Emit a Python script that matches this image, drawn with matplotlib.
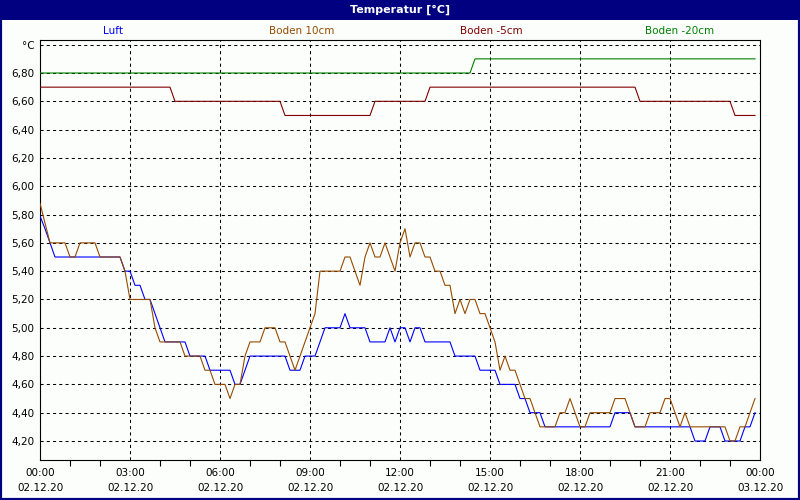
import matplotlib
matplotlib.use("Agg")
import matplotlib.pyplot as plt
import matplotlib.dates as mdates
from matplotlib.patches import Rectangle
import pandas as pd

# ---------------- data ----------------
title = "Temperatur [°C]"
series_names = ["Luft", "Boden 10cm", "Boden -5cm", "Boden -20cm"]
series_colors = ["#0000ff", "#964b00", "#800000", "#008000"]

times = pd.date_range("2020-12-02 00:00", periods=144, freq="10min")

luft = [
    5.79, 5.70, 5.60, 5.5, 5.5, 5.5, 5.5, 5.5, 5.5, 5.5, 5.5, 5.5,
    5.5, 5.5, 5.5, 5.5, 5.5, 5.4, 5.4, 5.3, 5.3, 5.2, 5.2, 5.1,
    5.0, 4.9, 4.9, 4.9, 4.9, 4.9, 4.8, 4.8, 4.8, 4.8, 4.7, 4.7,
    4.7, 4.7, 4.7, 4.6, 4.6, 4.7, 4.8, 4.8, 4.8, 4.8, 4.8, 4.8,
    4.8, 4.8, 4.7, 4.7, 4.7, 4.8, 4.8, 4.8, 4.9, 5.0, 5.0, 5.0,
    5.0, 5.1, 5.0, 5.0, 5.0, 5.0, 4.9, 4.9, 4.9, 4.9, 5.0, 4.9,
    5.0, 5.0, 4.9, 5.0, 5.0, 4.9, 4.9, 4.9, 4.9, 4.9, 4.9, 4.8,
    4.8, 4.8, 4.8, 4.8, 4.7, 4.7, 4.7, 4.7, 4.6, 4.6, 4.6, 4.6,
    4.5, 4.5, 4.4, 4.4, 4.4, 4.3, 4.3, 4.3, 4.3, 4.3, 4.3, 4.3,
    4.3, 4.3, 4.3, 4.3, 4.3, 4.3, 4.3, 4.4, 4.4, 4.4, 4.4, 4.3,
    4.3, 4.3, 4.3, 4.3, 4.3, 4.3, 4.3, 4.3, 4.3, 4.3, 4.3, 4.2,
    4.2, 4.2, 4.3, 4.3, 4.3, 4.2, 4.2, 4.2, 4.2, 4.3, 4.3, 4.4,
]

boden_10 = [
    5.88, 5.74, 5.6, 5.6, 5.6, 5.6, 5.5, 5.5, 5.6, 5.6, 5.6, 5.6,
    5.5, 5.5, 5.5, 5.5, 5.5, 5.4, 5.2, 5.2, 5.2, 5.2, 5.2, 5.0,
    4.9, 4.9, 4.9, 4.9, 4.9, 4.8, 4.8, 4.8, 4.8, 4.7, 4.7, 4.6,
    4.6, 4.6, 4.5, 4.6, 4.6, 4.8, 4.9, 4.9, 4.9, 5.0, 5.0, 5.0,
    4.9, 4.9, 4.8, 4.7, 4.8, 4.9, 5.0, 5.1, 5.4, 5.4, 5.4, 5.4,
    5.4, 5.5, 5.5, 5.4, 5.3, 5.5, 5.6, 5.5, 5.5, 5.6, 5.5, 5.4,
    5.6, 5.7, 5.5, 5.6, 5.6, 5.5, 5.5, 5.4, 5.4, 5.3, 5.3, 5.1,
    5.2, 5.1, 5.2, 5.2, 5.1, 5.1, 5.0, 4.9, 4.7, 4.8, 4.7, 4.7,
    4.6, 4.5, 4.5, 4.4, 4.3, 4.3, 4.3, 4.3, 4.4, 4.4, 4.5, 4.4,
    4.3, 4.3, 4.4, 4.4, 4.4, 4.4, 4.4, 4.5, 4.5, 4.5, 4.4, 4.3,
    4.3, 4.3, 4.4, 4.4, 4.4, 4.5, 4.5, 4.4, 4.3, 4.4, 4.3, 4.3,
    4.3, 4.3, 4.3, 4.3, 4.3, 4.3, 4.2, 4.2, 4.3, 4.3, 4.4, 4.5,
]

boden_m5 = [
    6.7, 6.7, 6.7, 6.7, 6.7, 6.7, 6.7, 6.7, 6.7, 6.7, 6.7, 6.7,
    6.7, 6.7, 6.7, 6.7, 6.7, 6.7, 6.7, 6.7, 6.7, 6.7, 6.7, 6.7,
    6.7, 6.7, 6.7, 6.6, 6.6, 6.6, 6.6, 6.6, 6.6, 6.6, 6.6, 6.6,
    6.6, 6.6, 6.6, 6.6, 6.6, 6.6, 6.6, 6.6, 6.6, 6.6, 6.6, 6.6,
    6.6, 6.5, 6.5, 6.5, 6.5, 6.5, 6.5, 6.5, 6.5, 6.5, 6.5, 6.5,
    6.5, 6.5, 6.5, 6.5, 6.5, 6.5, 6.5, 6.6, 6.6, 6.6, 6.6, 6.6,
    6.6, 6.6, 6.6, 6.6, 6.6, 6.6, 6.7, 6.7, 6.7, 6.7, 6.7, 6.7,
    6.7, 6.7, 6.7, 6.7, 6.7, 6.7, 6.7, 6.7, 6.7, 6.7, 6.7, 6.7,
    6.7, 6.7, 6.7, 6.7, 6.7, 6.7, 6.7, 6.7, 6.7, 6.7, 6.7, 6.7,
    6.7, 6.7, 6.7, 6.7, 6.7, 6.7, 6.7, 6.7, 6.7, 6.7, 6.7, 6.7,
    6.6, 6.6, 6.6, 6.6, 6.6, 6.6, 6.6, 6.6, 6.6, 6.6, 6.6, 6.6,
    6.6, 6.6, 6.6, 6.6, 6.6, 6.6, 6.6, 6.5, 6.5, 6.5, 6.5, 6.5,
]

boden_m20 = [
    6.8, 6.8, 6.8, 6.8, 6.8, 6.8, 6.8, 6.8, 6.8, 6.8, 6.8, 6.8,
    6.8, 6.8, 6.8, 6.8, 6.8, 6.8, 6.8, 6.8, 6.8, 6.8, 6.8, 6.8,
    6.8, 6.8, 6.8, 6.8, 6.8, 6.8, 6.8, 6.8, 6.8, 6.8, 6.8, 6.8,
    6.8, 6.8, 6.8, 6.8, 6.8, 6.8, 6.8, 6.8, 6.8, 6.8, 6.8, 6.8,
    6.8, 6.8, 6.8, 6.8, 6.8, 6.8, 6.8, 6.8, 6.8, 6.8, 6.8, 6.8,
    6.8, 6.8, 6.8, 6.8, 6.8, 6.8, 6.8, 6.8, 6.8, 6.8, 6.8, 6.8,
    6.8, 6.8, 6.8, 6.8, 6.8, 6.8, 6.8, 6.8, 6.8, 6.8, 6.8, 6.8,
    6.8, 6.8, 6.8, 6.9, 6.9, 6.9, 6.9, 6.9, 6.9, 6.9, 6.9, 6.9,
    6.9, 6.9, 6.9, 6.9, 6.9, 6.9, 6.9, 6.9, 6.9, 6.9, 6.9, 6.9,
    6.9, 6.9, 6.9, 6.9, 6.9, 6.9, 6.9, 6.9, 6.9, 6.9, 6.9, 6.9,
    6.9, 6.9, 6.9, 6.9, 6.9, 6.9, 6.9, 6.9, 6.9, 6.9, 6.9, 6.9,
    6.9, 6.9, 6.9, 6.9, 6.9, 6.9, 6.9, 6.9, 6.9, 6.9, 6.9, 6.9,
]

y_ticks = [4.2, 4.4, 4.6, 4.8, 5.0, 5.2, 5.4, 5.6, 5.8, 6.0, 6.2, 6.4, 6.6, 6.8, 7.0]
y_tick_labels = ["4,20", "4,40", "4,60", "4,80", "5,00", "5,20", "5,40", "5,60",
                 "5,80", "6,00", "6,20", "6,40", "6,60", "6,80", "°C"]

# ---------------- figure ----------------
plt.rcParams["font.family"] = ["DejaVu Sans"]
W, H = 800, 500
bg = "#fcfefc"
navy = "#000080"

fig = plt.figure(figsize=(W / 100, H / 100), dpi=100)
fig.patch.set_facecolor(bg)

# title bar
fig.add_artist(Rectangle((0, 1 - 20 / H), 1, 20 / H, transform=fig.transFigure,
                         facecolor=navy, edgecolor="none", zorder=0))
fig.text(0.5, 1 - 10 / H, title, color="white", fontweight="bold",
         ha="center", va="center", fontsize=8)

# outer border
fig.add_artist(Rectangle((0, 0), 1, 1, transform=fig.transFigure, fill=False,
                         edgecolor=navy, linewidth=3, zorder=10))

# legend entries
legend_x = [113, 302, 491, 680]
for name, col, lx in zip(series_names, series_colors, legend_x):
    fig.text(lx / W, 1 - 31 / H, name, color=col, ha="center", va="center", fontsize=7.5)

ax = fig.add_axes([40 / W, 40 / H, 720 / W, 420 / H])
ax.set_facecolor(bg)

all_series = [luft, boden_10, boden_m5, boden_m20]
for vals, col in zip(all_series, series_colors):
    ax.plot(times, vals, color=col, linewidth=0.8, zorder=3)

ax.set_xlim(pd.Timestamp("2020-12-02 00:00"), pd.Timestamp("2020-12-03 00:00"))
ax.set_ylim(4.2 - 19 / 141.5, 6.8 + 33 / 141.5)

ax.set_yticks(y_ticks)
ax.set_yticklabels(y_tick_labels)
ax.tick_params(axis="y", length=0, pad=4, labelsize=7.5)

ax.xaxis.set_major_locator(mdates.HourLocator(byhour=range(0, 24, 3)))
ax.xaxis.set_major_formatter(mdates.DateFormatter("%H:%M\n%d.%m.%y"))
ax.xaxis.set_minor_locator(mdates.HourLocator())
ax.tick_params(axis="x", which="major", length=0, pad=6, labelsize=7.5)
ax.tick_params(axis="x", which="minor", length=4, width=0.8, color="black")
for lbl in ax.get_xticklabels():
    lbl.set_linespacing(1.55)

ax.grid(True, which="major", color="black", linestyle=(0, (3, 3)), linewidth=0.75)
ax.set_axisbelow(True)
for sp in ax.spines.values():
    sp.set_color("black")
    sp.set_linewidth(0.8)

fig.savefig("out.png", dpi=100, facecolor=bg)
